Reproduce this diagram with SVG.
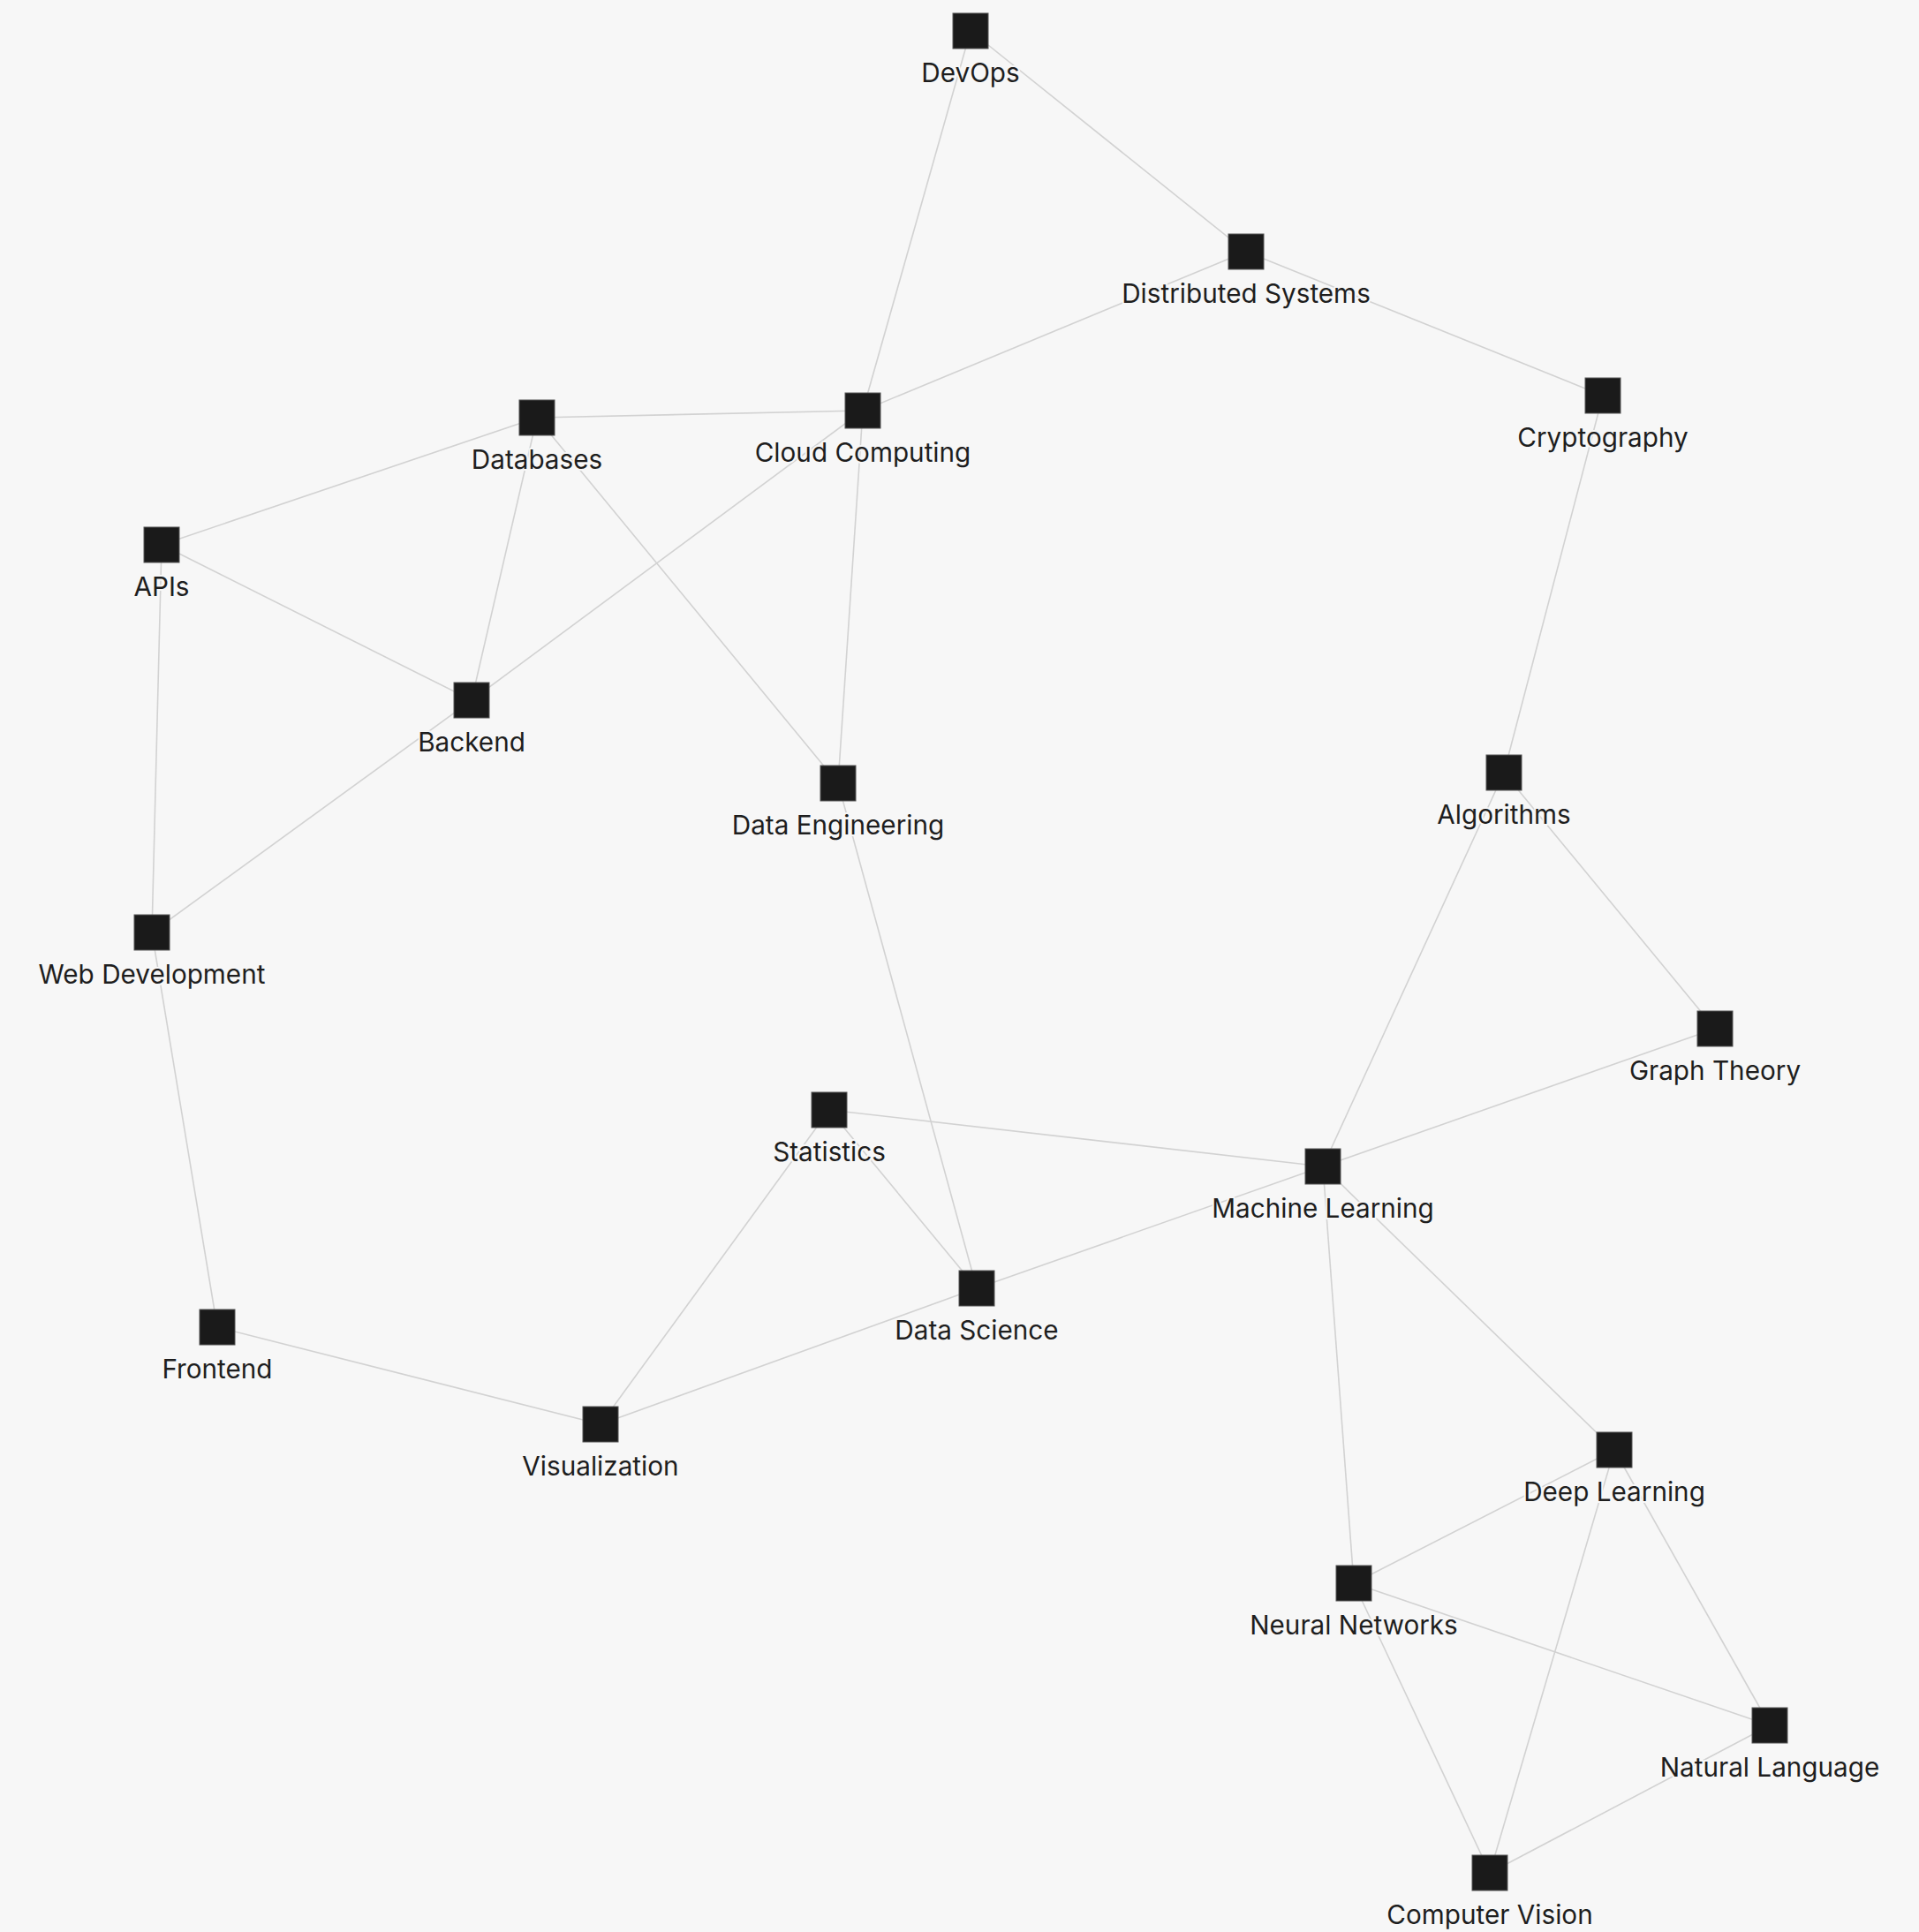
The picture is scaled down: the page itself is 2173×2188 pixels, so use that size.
<svg xmlns="http://www.w3.org/2000/svg" width="2173" height="2188" viewBox="0 0 2173 2188">
<style>
.e{stroke:#d2d2d2;stroke-width:1.6;fill:none}
.n rect{fill:#1a1a1a;stroke:#555;stroke-width:1}
.n text{font-family:Inter,"Noto Sans",sans-serif;font-size:29.7px;fill:#1e1e1e;text-anchor:middle;paint-order:stroke;stroke:#f7f7f7;stroke-width:4px;stroke-linejoin:round}
</style>
<rect width="2173" height="2188" fill="#f7f7f7"/>
<g id="edges">
<line class="e" x1="1099" y1="35" x2="1411" y2="285"/>
<line class="e" x1="1099" y1="35" x2="977" y2="465"/>
<line class="e" x1="1411" y1="285" x2="977" y2="465"/>
<line class="e" x1="1411" y1="285" x2="1815" y2="448"/>
<line class="e" x1="608" y1="473" x2="977" y2="465"/>
<line class="e" x1="608" y1="473" x2="183" y2="617"/>
<line class="e" x1="608" y1="473" x2="534" y2="793"/>
<line class="e" x1="608" y1="473" x2="949" y2="887"/>
<line class="e" x1="977" y1="465" x2="534" y2="793"/>
<line class="e" x1="977" y1="465" x2="949" y2="887"/>
<line class="e" x1="183" y1="617" x2="534" y2="793"/>
<line class="e" x1="183" y1="617" x2="172" y2="1056"/>
<line class="e" x1="534" y1="793" x2="172" y2="1056"/>
<line class="e" x1="1815" y1="448" x2="1703" y2="875"/>
<line class="e" x1="1703" y1="875" x2="1942" y2="1165"/>
<line class="e" x1="1703" y1="875" x2="1498" y2="1321"/>
<line class="e" x1="1942" y1="1165" x2="1498" y2="1321"/>
<line class="e" x1="949" y1="887" x2="1106" y2="1459"/>
<line class="e" x1="939" y1="1257" x2="1498" y2="1321"/>
<line class="e" x1="939" y1="1257" x2="1106" y2="1459"/>
<line class="e" x1="939" y1="1257" x2="680" y2="1613"/>
<line class="e" x1="1498" y1="1321" x2="1106" y2="1459"/>
<line class="e" x1="1498" y1="1321" x2="1828" y2="1642"/>
<line class="e" x1="1498" y1="1321" x2="1533" y2="1793"/>
<line class="e" x1="172" y1="1056" x2="246" y2="1503"/>
<line class="e" x1="246" y1="1503" x2="680" y2="1613"/>
<line class="e" x1="680" y1="1613" x2="1106" y2="1459"/>
<line class="e" x1="1828" y1="1642" x2="1533" y2="1793"/>
<line class="e" x1="1828" y1="1642" x2="1687" y2="2121"/>
<line class="e" x1="1828" y1="1642" x2="2004" y2="1954"/>
<line class="e" x1="1533" y1="1793" x2="2004" y2="1954"/>
<line class="e" x1="1533" y1="1793" x2="1687" y2="2121"/>
<line class="e" x1="2004" y1="1954" x2="1687" y2="2121"/>
</g>
<g id="devops" class="n"><rect x="1079" y="15" width="40" height="40"/><text x="1099" y="93">DevOps</text></g>
<g id="distributed-systems" class="n"><rect x="1391" y="265" width="40" height="40"/><text x="1411" y="343">Distributed Systems</text></g>
<g id="cryptography" class="n"><rect x="1795" y="428" width="40" height="40"/><text x="1815" y="506">Cryptography</text></g>
<g id="cloud-computing" class="n"><rect x="957" y="445" width="40" height="40"/><text x="977" y="523">Cloud Computing</text></g>
<g id="databases" class="n"><rect x="588" y="453" width="40" height="40"/><text x="608" y="531">Databases</text></g>
<g id="apis" class="n"><rect x="163" y="597" width="40" height="40"/><text x="183" y="675">APIs</text></g>
<g id="backend" class="n"><rect x="514" y="773" width="40" height="40"/><text x="534" y="851">Backend</text></g>
<g id="data-engineering" class="n"><rect x="929" y="867" width="40" height="40"/><text x="949" y="945">Data Engineering</text></g>
<g id="algorithms" class="n"><rect x="1683" y="855" width="40" height="40"/><text x="1703" y="933">Algorithms</text></g>
<g id="web-development" class="n"><rect x="152" y="1036" width="40" height="40"/><text x="172" y="1114">Web Development</text></g>
<g id="graph-theory" class="n"><rect x="1922" y="1145" width="40" height="40"/><text x="1942" y="1223">Graph Theory</text></g>
<g id="statistics" class="n"><rect x="919" y="1237" width="40" height="40"/><text x="939" y="1315">Statistics</text></g>
<g id="machine-learning" class="n"><rect x="1478" y="1301" width="40" height="40"/><text x="1498" y="1379">Machine Learning</text></g>
<g id="data-science" class="n"><rect x="1086" y="1439" width="40" height="40"/><text x="1106" y="1517">Data Science</text></g>
<g id="frontend" class="n"><rect x="226" y="1483" width="40" height="40"/><text x="246" y="1561">Frontend</text></g>
<g id="visualization" class="n"><rect x="660" y="1593" width="40" height="40"/><text x="680" y="1671">Visualization</text></g>
<g id="deep-learning" class="n"><rect x="1808" y="1622" width="40" height="40"/><text x="1828" y="1700">Deep Learning</text></g>
<g id="neural-networks" class="n"><rect x="1513" y="1773" width="40" height="40"/><text x="1533" y="1851">Neural Networks</text></g>
<g id="natural-language" class="n"><rect x="1984" y="1934" width="40" height="40"/><text x="2004" y="2012">Natural Language</text></g>
<g id="computer-vision" class="n"><rect x="1667" y="2101" width="40" height="40"/><text x="1687" y="2179">Computer Vision</text></g>
</svg>
